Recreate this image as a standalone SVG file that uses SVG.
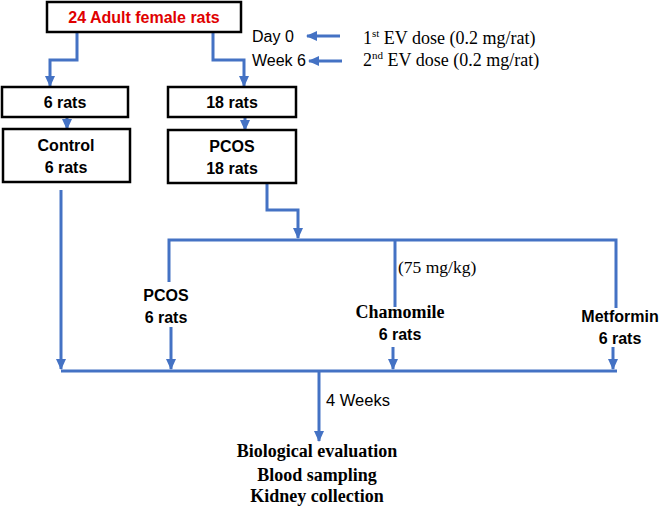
<svg xmlns="http://www.w3.org/2000/svg" width="661" height="506" viewBox="0 0 661 506">
<style>
.box{fill:#fff;stroke:#000;stroke-width:2.5}
.c{fill:none;stroke:#4472C4;stroke-width:3}
.sb{font-family:"Liberation Sans",Arial,sans-serif;font-weight:bold;font-size:16px;fill:#000;text-anchor:middle}
.sr{font-family:"Liberation Sans",Arial,sans-serif;font-size:16px;fill:#000}
.tb{font-family:"Liberation Serif","Times New Roman",serif;font-weight:bold;font-size:18px;fill:#000;text-anchor:middle}
.tr{font-family:"Liberation Serif","Times New Roman",serif;font-size:18px;fill:#000}
</style>
<defs>
<marker id="ah" markerUnits="userSpaceOnUse" markerWidth="12" markerHeight="12" viewBox="0 0 12 12" refX="10" refY="6" orient="auto">
<path d="M0,1 L11,6 L0,11 Z" fill="#4472C4"/>
</marker>
</defs>
<rect width="661" height="506" fill="#fff"/>
<g id="connectors">
<path class="c" d="M77,32 V60 H50 V86" marker-end="url(#ah)"/>
<path class="c" d="M213,32 V60 H244 V86" marker-end="url(#ah)"/>
<path class="c" d="M67,117 V129" marker-end="url(#ah)"/>
<path class="c" d="M245,117 V130" marker-end="url(#ah)"/>
<path class="c" d="M340,36 H307" marker-end="url(#ah)"/>
<path class="c" d="M342,61 H309" marker-end="url(#ah)"/>
<path class="c" d="M61,190 V369" marker-end="url(#ah)"/>
<path class="c" d="M267,183 V210 H298 V238" marker-end="url(#ah)"/>
<path class="c" d="M169,282 V240 H616 V308"/>
<path class="c" d="M395,240 V307"/>
<path class="c" d="M171,327 V369" marker-end="url(#ah)"/>
<path class="c" d="M393,347 V369" marker-end="url(#ah)"/>
<path class="c" d="M613,347 V369" marker-end="url(#ah)"/>
<path class="c" d="M61,371 H617"/>
<path class="c" d="M319,371 V441" marker-end="url(#ah)"/>
</g>
<g id="n-top">
<rect class="box" x="47" y="2" width="194" height="30"/>
<text class="sb" x="144" y="23" style="fill:#E00000">24 Adult female rats</text>
</g>
<g id="n-6rats">
<rect class="box" x="2" y="87" width="126" height="30"/>
<text class="sb" x="65" y="108">6 rats</text>
</g>
<g id="n-18rats">
<rect class="box" x="168" y="87" width="128" height="30"/>
<text class="sb" x="232" y="108">18 rats</text>
</g>
<g id="n-control">
<rect class="box" x="3" y="129" width="127" height="53"/>
<text class="sb" x="66" y="151">Control</text>
<text class="sb" x="66" y="173">6 rats</text>
</g>
<g id="n-pcos">
<rect class="box" x="168" y="130" width="128" height="53"/>
<text class="sb" x="232" y="152">PCOS</text>
<text class="sb" x="232" y="174">18 rats</text>
</g>
<g id="n-schedule">
<text class="sr" x="252" y="42">Day 0</text>
<text class="sr" x="252" y="66">Week 6</text>
<text class="tr" x="363" y="44">1<tspan font-size="11" dy="-7">st</tspan><tspan dy="7"> EV dose (0.2 mg/rat)</tspan></text>
<text class="tr" x="363" y="66">2<tspan font-size="11" dy="-7">nd</tspan><tspan dy="7"> EV dose (0.2 mg/rat)</tspan></text>
</g>
<g id="n-g-pcos">
<text class="sb" x="166" y="301">PCOS</text>
<text class="sb" x="166" y="323">6 rats</text>
</g>
<g id="n-g-chamomile">
<text class="tr" x="398" y="273" style="font-size:17.5px">(75 mg/kg)</text>
<text class="tb" x="400" y="318">Chamomile</text>
<text class="sb" x="400" y="340">6 rats</text>
</g>
<g id="n-g-metformin">
<text class="sb" x="620" y="322">Metformin</text>
<text class="sb" x="620" y="344">6 rats</text>
</g>
<g id="n-outcome">
<text class="sr" x="326" y="406" style="font-size:16.5px">4 Weeks</text>
<text class="tb" x="317" y="457">Biological evaluation</text>
<text class="tb" x="317" y="481">Blood sampling</text>
<text class="tb" x="317" y="502">Kidney collection</text>
</g>
</svg>
